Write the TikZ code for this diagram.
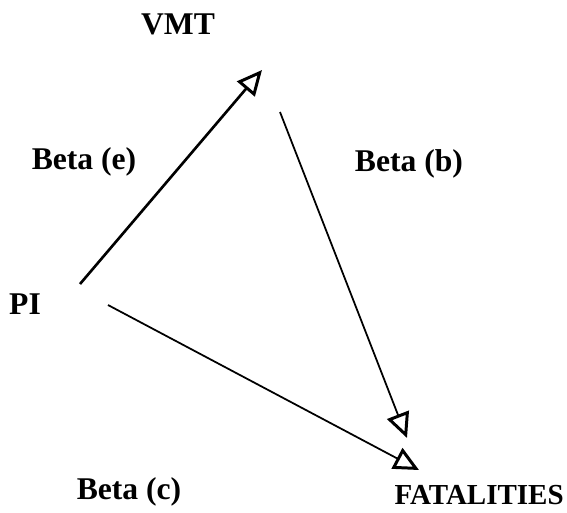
\documentclass[tikz,border=0pt]{standalone}
\usepackage{fontspec}
\setmainfont{Liberation Serif}
\usetikzlibrary{arrows.meta}

\begin{document}
\begin{tikzpicture}[
    x=0.02cm, y=-0.02cm,
    lab/.style={font=\fontsize{18}{21}\selectfont\bfseries, inner sep=0pt},
    arr/.style={-{Triangle[open, length=0.5cm, width=0.46cm, line width=1.7pt]}, line width=1pt},
    arrthick/.style={arr, line width=1.5pt}
  ]
    \useasboundingbox (0,0) rectangle (567,512);
    % variables
    \node[lab] (vmt) at (178,24) {VMT};
    \node[lab] (pi) at (25,304) {PI};
    \node[lab, font=\fontsize{16.5}{20}\selectfont\bfseries, anchor=east] (fat) at (564,495) {FATALITIES};
    % coefficients
    \node[lab] (be) at (84,162) {Beta (e)};
    \node[lab] (bb) at (409,164) {Beta (b)};
    \node[lab] (bc) at (129,492) {Beta (c)};
    % arrow ends
    \coordinate (pi-up) at (80,284);
    \coordinate (vmt-in) at (262,70);
    \coordinate (vmt-out) at (280,112);
    \coordinate (fat-in1) at (407,438);
    \coordinate (pi-dn) at (108,305);
    \coordinate (fat-in2) at (419,470);
    \draw[arrthick] (pi-up) -- (vmt-in);
    \draw[arr] (vmt-out) -- (fat-in1);
    \draw[arr] (pi-dn) -- (fat-in2);
  \end{tikzpicture}
\end{document}
